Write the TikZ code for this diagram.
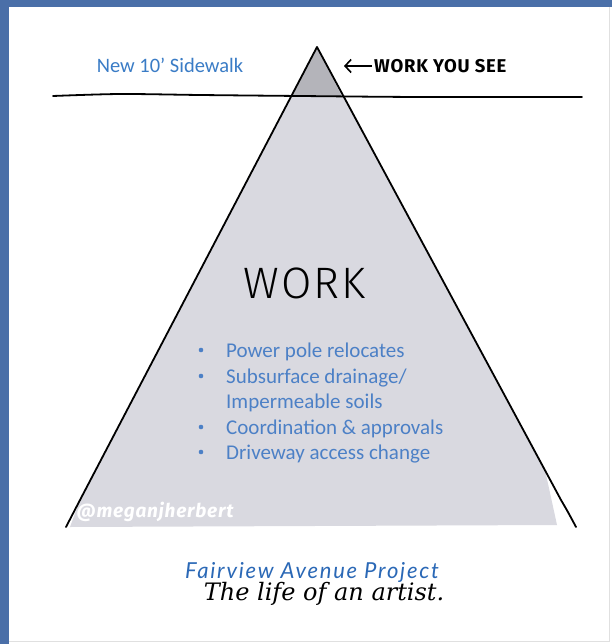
\documentclass[tikz,border=0pt]{standalone}
\usepackage{fontspec}
\setmainfont{Carlito}
\newfontfamily\handfont{Fira Sans}[LetterSpace=4]
\newfontfamily\handlight{Fira Sans Light}
\newfontfamily\serifit{DejaVu Serif}
\newfontfamily\projfont{Lato}[LetterSpace=8]
\usetikzlibrary{arrows.meta}
\definecolor{bordblue}{HTML}{4A6FA8}
\definecolor{fillgrey}{HTML}{D9D9E0}
\definecolor{tipgrey}{HTML}{B4B4BA}
\definecolor{txtblue}{HTML}{3A7CC6}
\definecolor{bulblue}{HTML}{4C80C6}
\definecolor{projblue}{HTML}{2A68B6}
\tikzset{
  ink/.style={line width=1.8pt, line cap=round, line join=round},
  bullettxt/.style={text=bulblue, anchor=base west, inner sep=0pt, font=\fontsize{21}{25}\selectfont},
  dotstyle/.style={fill=bulblue, circle, inner sep=0pt, minimum size=4.6pt},
}
\begin{document}
\begin{tikzpicture}[x=1pt,y=-1pt]
\useasboundingbox (0,0) rectangle (612,644);
% frame
\fill[bordblue] (0,0) rectangle (612,644);
\fill[white] (9,7) rectangle (612,644);
\draw[black!12, line width=0.8pt] (609,7) -- (609,641) -- (9,641);
% iceberg fill
\fill[fillgrey] (317,47) -- (545,470) -- (557,525) -- (70,527) -- (80,500) -- cycle;
\fill[tipgrey] (317,47) -- (291,97) -- (342,97) -- cycle;
% triangle outline
\draw[ink] (66,527) .. controls (73,513) .. (80,500) -- (317,47) -- (561,500) .. controls (568,512) .. (576,527);
% horizon
\draw[ink] plot[smooth] coordinates {(53,96) (120,94) (200,95) (300,96) (420,97) (582,97)};
% texts
\node[text=txtblue, font=\fontsize{20.5}{24}\selectfont] (sidewalk) at (170,65) {New 10\textquoteright{} Sidewalk};
\node[anchor=west, inner sep=0pt, font=\handfont\bfseries\fontsize{18.5}{22}\selectfont] (wys) at (374,66) {WORK YOU SEE};
\coordinate (arrtip) at (344,66);
\draw[line width=1.6pt, -{Straight Barb[length=6pt,width=13pt]}] (wys.west) ++(-2,0) -- (arrtip);
\node[font=\handlight\fontsize{44}{50}\selectfont] (work) at (305,283) {W\kern2pt O\kern2pt R\kern2pt K};
% bullets
\foreach \y/\n in {350/1,376/2,427/4,452/5}{
  \node[dotstyle] (dot\n) at (201,\y) {};
}
\node[bullettxt] (b1) at (226,357) {Power pole relocates};
\node[bullettxt] (b2) at (226,383) {Subsurface drainage/};
\node[bullettxt] (b3) at (226,408) {Impermeable soils};
\node[bullettxt] (b4) at (226,434) {Coordination \& approvals};
\node[bullettxt] (b5) at (226,459) {Driveway access change};
\node[text=white, font=\handfont\bfseries\itshape\fontsize{19}{22}\selectfont] (handle) at (155,512) {@meganjherbert};
\node[text=projblue, font=\projfont\itshape\fontsize{22}{26}\selectfont] (proj) at (312,572) {Fairview Avenue Project};
\node[font=\serifit\itshape\fontsize{24}{28}\selectfont] (life) at (324,594) {The life of an artist.};
\end{tikzpicture}
\end{document}
